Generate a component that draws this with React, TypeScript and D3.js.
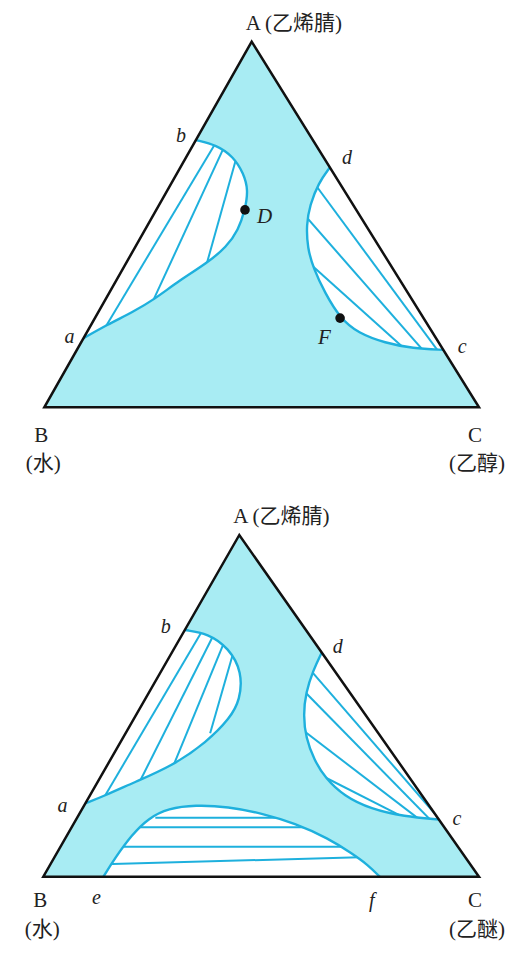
import React, { useEffect, useRef } from 'react';
import * as d3 from 'd3';

type Comp = [number, number]; // [A fraction, C fraction], B = 1 - A - C

// --- upper diagram: 乙烯腈 / 水 / 乙醇 ---
const topVertexNames = ['A (乙烯腈)', 'B', '(水)', 'C', '(乙醇)'];
const topLeftCurve: Comp[] = [
  [0.731, 0], [0.7175, 0.054], [0.6855, 0.108], [0.64, 0.153], [0.594, 0.186],
  [0.54, 0.204], [0.485, 0.215], [0.439, 0.21], [0.394, 0.186], [0.348, 0.146],
  [0.2935, 0.111], [0.2615, 0.08], [0.225, 0.036], [0.189, 0],
];
const topLeftTies: Comp[][] = [
  [[0.225, 0.036], [0.713, 0.049]],
  [[0.2935, 0.111], [0.699, 0.075]],
  [[0.394, 0.186], [0.667, 0.12]],
];
const topRightCurve: Comp[] = [
  [0.656, 0.344], [0.6135, 0.338], [0.553, 0.347], [0.4985, 0.365], [0.436, 0.3975],
  [0.381, 0.437], [0.312, 0.497], [0.244, 0.564], [0.203, 0.625], [0.176, 0.7],
  [0.161, 0.771], [0.157, 0.843],
];
const topRightTies: Comp[][] = [
  [[0.6026, 0.34], [0.158, 0.828]],
  [[0.515, 0.361], [0.165, 0.786]],
  [[0.389, 0.429], [0.169, 0.74]],
];
const topDots: Comp[] = [[0.54, 0.204], [0.244, 0.564]];
const topDotNames = ['D', 'F'];

// --- lower diagram: 乙烯腈 / 水 / 乙醚 ---
const bottomVertexNames = ['A (乙烯腈)', 'B', '(水)', 'C', '(乙醚)'];
const bottomLeftCurve: Comp[] = [
  [0.722, 0], [0.712, 0.058], [0.669, 0.125], [0.599, 0.187], [0.517, 0.219],
  [0.464, 0.22], [0.394, 0.198], [0.324, 0.15], [0.2757, 0.084], [0.236, 0.033],
  [0.215, 0],
];
const bottomLeftTies: Comp[][] = [
  [[0.2376, 0.035], [0.709, 0.041]],
  [[0.28, 0.096], [0.7, 0.073]],
  [[0.3357, 0.151], [0.681, 0.107]],
  [[0.429, 0.192], [0.656, 0.141]],
];
const bottomRightCurve: Comp[] = [
  [0.656, 0.344], [0.605, 0.3475], [0.539, 0.36], [0.473, 0.384], [0.406, 0.42],
  [0.3415, 0.468], [0.289, 0.517], [0.236, 0.584], [0.198, 0.663], [0.176, 0.749],
  [0.1674, 0.8326],
];
const bottomRightTies: Comp[][] = [
  [[0.5976, 0.349], [0.1703, 0.8315]],
  [[0.536, 0.363], [0.171, 0.808]],
  [[0.4264, 0.4065], [0.1756, 0.776]],
  [[0.2947, 0.508], [0.1855, 0.726]],
];
const bottomMidCurve: Comp[] = [
  [0, 0.138], [0.054, 0.14], [0.122, 0.148], [0.171, 0.164], [0.2, 0.197],
  [0.21, 0.254], [0.205, 0.332], [0.1855, 0.418], [0.156, 0.5075], [0.112, 0.604],
  [0.0685, 0.677], [0.034, 0.7305], [0, 0.772],
];
const bottomMidTies: Comp[][] = [
  [[0.1727, 0.19], [0.1727, 0.454]],
  [[0.1446, 0.172], [0.1446, 0.543]],
  [[0.0878, 0.152], [0.0878, 0.649]],
  [[0.037, 0.144], [0.0568, 0.6975]],
];

const FILL = '#a8ecf3';
const BLUE = '#1eb0dd';
const SERIF = '"Liberation Serif", "DejaVu Serif", serif';
const CJK = '"Liberation Serif", "Noto Sans CJK SC", serif';

interface Region {
  curve: Comp[];
  ties: Comp[][];
  ends: [string, number, number][]; // label + offset for first / last point
}

interface Panel {
  A: [number, number];
  B: [number, number];
  C: [number, number];
  names: string[];
  regions: Region[];
  dots: Comp[];
  dotNames: string[];
  dotOffsets: [number, number][];
}

const panels: Panel[] = [
  {
    A: [251.7, 41.7], B: [44.3, 407.3], C: [479, 407.3],
    names: topVertexNames,
    regions: [
      { curve: topLeftCurve, ties: topLeftTies, ends: [['b', -15, 2], ['a', -14, 5]] },
      { curve: topRightCurve, ties: topRightTies, ends: [['d', 17, -3], ['c', 19, 3]] },
    ],
    dots: topDots, dotNames: topDotNames, dotOffsets: [[12, 13], [-22, 26]],
  },
  {
    A: [239.3, 535], B: [43.3, 876.7], C: [479, 876.7],
    names: bottomVertexNames,
    regions: [
      { curve: bottomLeftCurve, ties: bottomLeftTies, ends: [['b', -19, 3], ['a', -23, 9]] },
      { curve: bottomRightCurve, ties: bottomRightTies, ends: [['d', 16, 0], ['c', 18, 6]] },
      { curve: bottomMidCurve, ties: bottomMidTies, ends: [['e', -7, 27], ['f', -8, 30]] },
    ],
    dots: [], dotNames: [], dotOffsets: [],
  },
];

const App: React.FC = () => {
  const ref = useRef<SVGSVGElement | null>(null);

  useEffect(() => {
    if (!ref.current) return;
    const svg = d3.select(ref.current);
    svg.selectAll('*').remove();
    const defs = svg.append('defs');

    panels.forEach((p, pi) => {
      // ternary projection built from linear scales
      const yScale = d3.scaleLinear().domain([0, 1]).range([p.B[1], p.A[1]]);
      const leftX = d3.scaleLinear().domain([0, 1]).range([p.B[0], p.A[0]]);
      const rightX = d3.scaleLinear().domain([0, 1]).range([p.C[0], p.A[0]]);
      const proj = (d: Comp): [number, number] => {
        const [a, c] = d;
        const x = d3.scaleLinear().domain([0, 1 - a]).range([leftX(a), rightX(a)]);
        return [a >= 1 ? p.A[0] : x(c), yScale(a)];
      };

      const g = svg.append('g');
      const tri = [p.A, p.B, p.C];

      g.append('polygon')
        .attr('points', tri.map((t) => t.join(',')).join(' '))
        .attr('fill', FILL);

      const smooth = d3.line<Comp>()
        .x((d) => proj(d)[0])
        .y((d) => proj(d)[1])
        .curve(d3.curveBasis);
      const straight = d3.line<Comp>()
        .x((d) => proj(d)[0])
        .y((d) => proj(d)[1]);

      // two-phase regions: white area, tie lines clipped to it, binodal curve
      p.regions.forEach((r, ri) => {
        const area = smooth(r.curve) + 'Z';
        const id = `clip-${pi}-${ri}`;
        defs.append('clipPath').attr('id', id).append('path').attr('d', area);
        g.append('path').attr('d', area).attr('fill', '#fff');
        const ties = g.append('g').attr('clip-path', `url(#${id})`);
        r.ties.forEach((t) => {
          // extend a touch so ends meet the curve; clip trims the excess
          const [p0, p1] = t.map(proj);
          const ext = 0.04;
          const q0 = [p0[0] - (p1[0] - p0[0]) * ext, p0[1] - (p1[1] - p0[1]) * ext];
          const q1 = [p1[0] + (p1[0] - p0[0]) * ext, p1[1] + (p1[1] - p0[1]) * ext];
          ties.append('line')
            .attr('x1', q0[0]).attr('y1', q0[1])
            .attr('x2', q1[0]).attr('y2', q1[1])
            .attr('stroke', BLUE)
            .attr('stroke-width', 2);
        });
        g.append('path')
          .attr('d', smooth(r.curve))
          .attr('fill', 'none')
          .attr('stroke', BLUE)
          .attr('stroke-width', 2.4);
      });

      g.append('polygon')
        .attr('points', tri.map((t) => t.join(',')).join(' '))
        .attr('fill', 'none')
        .attr('stroke', '#111')
        .attr('stroke-width', 2.5)
        .attr('stroke-linejoin', 'miter');

      // end-point letters
      p.regions.forEach((r) => {
        const pts = [r.curve[0], r.curve[r.curve.length - 1]];
        pts.forEach((pt, i) => {
          const [x, y] = proj(pt);
          const [name, dx, dy] = r.ends[i];
          g.append('text')
            .attr('x', x + dx)
            .attr('y', y + dy)
            .attr('text-anchor', 'middle')
            .attr('font-family', SERIF)
            .attr('font-style', 'italic')
            .attr('font-size', 20)
            .attr('fill', '#222')
            .text(name);
        });
      });

      p.dots.forEach((d, i) => {
        const [x, y] = proj(d);
        g.append('circle').attr('cx', x).attr('cy', y).attr('r', 4.8).attr('fill', '#111');
        g.append('text')
          .attr('x', x + p.dotOffsets[i][0])
          .attr('y', y + p.dotOffsets[i][1])
          .attr('font-family', SERIF)
          .attr('font-style', 'italic')
          .attr('font-size', 21)
          .attr('fill', '#222')
          .text(p.dotNames[i]);
      });

      // vertex labels
      const [titleA, nameB, subB, nameC, subC] = p.names;
      g.append('text')
        .attr('x', p.A[0] - 6)
        .attr('y', p.A[1] - 12)
        .attr('font-family', CJK)
        .attr('font-size', 21)
        .attr('fill', '#222')
        .text(titleA);
      const corner = (x: number, y: number, t: string) =>
        g.append('text')
          .attr('x', x)
          .attr('y', y)
          .attr('text-anchor', 'middle')
          .attr('font-family', CJK)
          .attr('font-size', 21)
          .attr('fill', '#222')
          .text(t);
      const off = p.B[1] > 600 ? [30, 59] : [35, 63];
      corner(p.B[0] - 3, p.B[1] + off[0], nameB);
      corner(p.B[0] - 1, p.B[1] + off[1], subB);
      corner(p.C[0] - 4, p.C[1] + off[0], nameC);
      corner(p.C[0] - 2, p.C[1] + off[1], subC);
    });
  }, []);

  return (
    <svg
      ref={ref}
      width={528}
      height={958}
      style={{ position: 'absolute', left: 0, top: 0, display: 'block', background: '#fff' }}
    />
  );
};

export default App;
